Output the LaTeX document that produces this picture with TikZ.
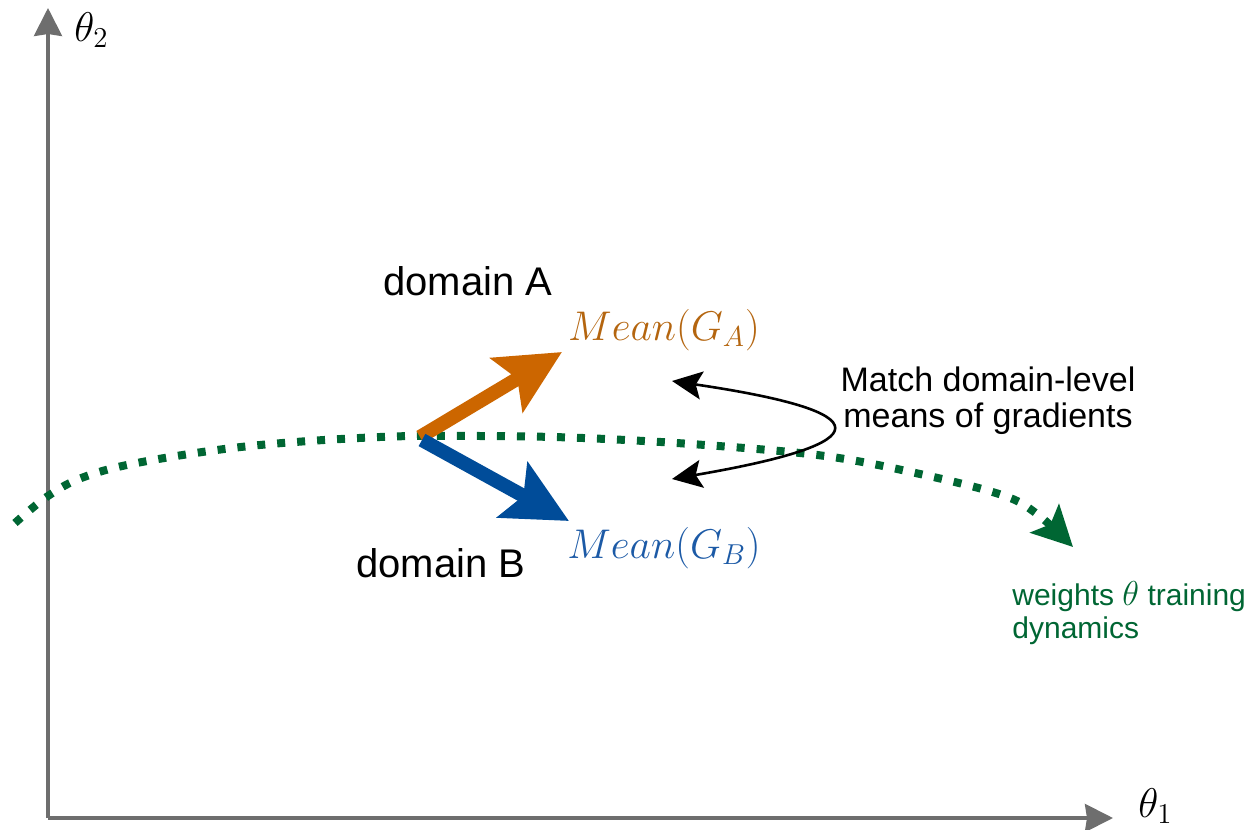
\documentclass[tikz,border=0pt]{standalone}
\usepackage{fontspec}
\setmainfont{Liberation Sans}
\usetikzlibrary{arrows.meta}

\definecolor{axisgray}{HTML}{6E6E6E}
\definecolor{gradA}{HTML}{CC6600}
\definecolor{gradAtext}{HTML}{B4650F}
\definecolor{gradB}{HTML}{004C99}
\definecolor{gradBtext}{HTML}{1C5AA6}
\definecolor{trajgreen}{HTML}{006633}

\tikzset{
  axis/.style={draw=axisgray, line width=1.7pt,
    -{Stealth[length=14pt,width=14pt,inset=1pt]}, color=axisgray},
  grad/.style={line width=7pt, -{Stealth[length=32pt,width=31pt,inset=6pt]}},
  label/.style={font=\fontsize{17pt}{18pt}\selectfont, inner sep=0pt},
  domainlabel/.style={font=\fontsize{20pt}{24pt}\selectfont, inner sep=0pt, anchor=base},
  mathlabel/.style={font=\fontsize{21pt}{24pt}\selectfont, inner sep=0pt},
  traj/.style={draw=trajgreen, line width=4pt, dash pattern=on 4pt off 6pt,
    -{Stealth[length=20pt,width=20pt,inset=4pt]}, color=trajgreen},
  match/.style={line width=1.3pt,
    {Stealth[length=15pt,width=14pt,inset=3pt]}-{Stealth[length=15pt,width=14pt,inset=3pt]}},
}

\begin{document}
\begin{tikzpicture}[x=0.5pt,y=-0.5pt]
\useasboundingbox (0,0) rectangle (1250,830);

% parameter axes
\coordinate (O) at (48,818);
\coordinate (ytip) at (48,8);
\coordinate (xtip) at (1113,818);
\draw[axis] (O) -- (ytip);
\draw[axis] (O) -- (xtip);
\node[mathlabel, anchor=west] (t2) at (74,30) {$\theta_2$};
\node[mathlabel, anchor=west] (t1) at (1138,806) {$\theta_1$};

% training trajectory of the weights
\draw[traj] plot[smooth, tension=0.6] coordinates {
  (15,523) (48,496) (84,477) (142,462) (250,446) (380,437) (480,436)
  (583,438) (705,445) (825,456) (920,474) (1002,495) (1037,514) (1073,547)};

% mean gradients of the two domains
\coordinate (startA) at (420,437);
\coordinate (startB) at (422,440);
\coordinate (tipA) at (562,352);
\coordinate (tipB) at (569,521);
\draw[grad, gradA] (startA) -- (tipA);
\draw[grad, gradB] (startB) -- (tipB);

\node[mathlabel, text=gradAtext] (mA) at (664,330) {$Mean(G_A)$};
\node[mathlabel, text=gradBtext] (mB) at (664,548) {$Mean(G_B)$};
\node[domainlabel] (dA) at (468,295) {domain A};
\node[domainlabel] (dB) at (441,577) {domain B};

% matching arrow
\coordinate (mtop) at (672,381);
\coordinate (mbot) at (672,479);
\draw[match] (mtop) .. controls (882,412) and (882,443) .. (mbot);
\node[label, align=center] (mtext) at (988,401) {Match domain-level\\means of gradients};

% trajectory caption
\node[font=\fontsize{15pt}{16.5pt}\selectfont, text=trajgreen, align=left,
  anchor=north west, inner sep=0pt] (wt) at (1012,581)
  {weights {\fontsize{18pt}{18pt}\selectfont$\theta$} training\\dynamics};
\end{tikzpicture}
\end{document}
